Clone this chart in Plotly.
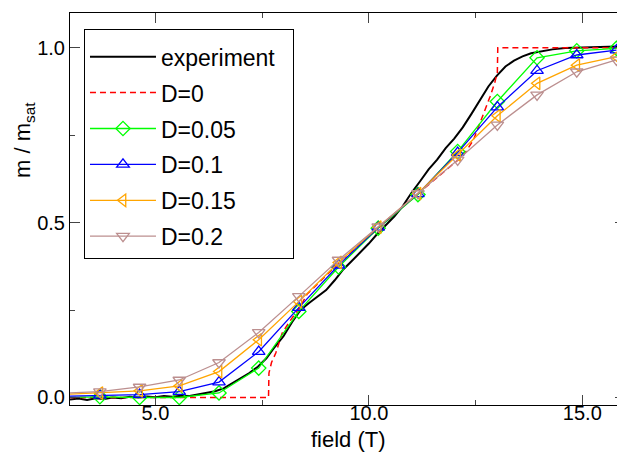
import plotly.graph_objects as go

# ---- data ----
field_exp = [3.0, 3.2, 3.4, 3.6, 3.8, 4.0, 4.2, 4.4, 4.6, 4.8, 5.0, 5.2, 5.4, 5.6, 5.8,
             6.0, 6.2, 6.4, 6.6, 6.8, 7.0, 7.2, 7.4, 7.6, 7.8, 8.0, 8.2, 8.4, 8.6, 8.8,
             9.0, 9.2, 9.4, 9.6, 9.8, 10.0, 10.2, 10.4, 10.6, 10.8, 11.0, 11.2, 11.4,
             11.6, 11.8, 12.0, 12.2, 12.4, 12.6, 12.8, 13.0, 13.2, 13.4, 13.6, 13.8,
             14.0, 14.3, 14.6, 15.0, 15.4, 15.8, 16.0]
m_exp = [-0.006, -0.003, -0.007, -0.002, -0.004, 0.0, -0.002, 0.002, 0.0, 0.003, 0.001,
         0.004, 0.002, 0.005, 0.004, 0.009, 0.012, 0.018, 0.026, 0.040, 0.056, 0.070,
         0.088, 0.112, 0.145, 0.175, 0.215, 0.250, 0.270, 0.288, 0.307, 0.335, 0.366,
         0.390, 0.414, 0.440, 0.468, 0.492, 0.518, 0.548, 0.585, 0.618, 0.652, 0.680,
         0.713, 0.740, 0.772, 0.810, 0.850, 0.889, 0.920, 0.946, 0.963, 0.975, 0.984,
         0.989, 0.995, 0.999, 1.000, 1.002, 1.004, 1.004]

field_d0 = [3.0, 7.65, 7.66, 7.72, 7.82, 7.97, 8.17, 8.4, 8.55, 9.3, 10.23, 11.17, 12.1,
            12.26, 12.45, 12.64, 12.84, 12.95, 13.01, 13.02, 16.0]
m_d0 = [0.0, 0.0, 0.07, 0.10, 0.127, 0.184, 0.222, 0.26, 0.295, 0.385, 0.485, 0.585,
        0.68, 0.70, 0.736, 0.794, 0.86, 0.90, 0.93, 1.0, 1.0]

field_sim = [2.77, 3.7, 4.63, 5.56, 6.49, 7.42, 8.36, 9.29, 10.22, 11.15, 12.08, 13.01,
             13.94, 14.87, 15.8]
m_d005 = [0.0, 0.002, 0.0, 0.0, 0.013, 0.084, 0.246, 0.373, 0.484, 0.580, 0.703, 0.846,
          0.971, 0.991, 0.998]
m_d01 = [0.003, 0.006, 0.008, 0.017, 0.044, 0.131, 0.257, 0.378, 0.486, 0.582, 0.700,
         0.830, 0.934, 0.979, 0.993]
m_d015 = [0.008, 0.0125, 0.019, 0.033, 0.074, 0.165, 0.274, 0.386, 0.487, 0.583, 0.693,
          0.805, 0.898, 0.950, 0.974]
m_d02 = [0.012, 0.017, 0.030, 0.050, 0.100, 0.186, 0.289, 0.393, 0.488, 0.583, 0.679,
         0.779, 0.865, 0.931, 0.965]

x_ticks = [5.0, 10.0, 15.0]
x_ticklabels = ["5.0", "10.0", "15.0"]
y_ticks = [0.0, 0.5, 1.0]
y_ticklabels = ["0.0", "0.5", "1.0"]

FONT = "Liberation Sans, Arial, Helvetica, sans-serif"

fig = go.Figure()
fig.add_trace(go.Scatter(x=field_exp, y=m_exp, mode="lines",
                         name="experiment\u00a0\u00a0",
                         line=dict(color="black", width=2), legendgroup="a"))
fig.add_trace(go.Scatter(x=field_d0, y=m_d0, mode="lines", name="D=0",
                         line=dict(color="#ff0000", width=1.5, dash="6px,4px"),
                         legendgroup="b"))
series = [
    ("D=0.05", m_d005, "#00ff00", "diamond-open"),
    ("D=0.1", m_d01, "#0000ff", "triangle-up-open"),
    ("D=0.15", m_d015, "#ffa500", "triangle-left-open"),
    ("D=0.2", m_d02, "#bc8f8f", "triangle-down-open"),
]
for i, (name, vals, col, sym) in enumerate(series):
    fig.add_trace(go.Scatter(x=field_sim, y=vals, mode="lines+markers", name=name,
                             line=dict(color=col, width=1.3),
                             marker=dict(symbol=sym, size=11, color=col,
                                         line=dict(color=col, width=1.3)),
                             legendgroup="g%d" % i))

axis_common = dict(showline=True, linecolor="black", linewidth=1, mirror="ticks",
                   ticks="inside", ticklen=10, tickwidth=1, tickcolor="#444",
                   showgrid=False, zeroline=False, automargin=False,
                   tickfont=dict(size=20, color="black", family=FONT))

fig.update_xaxes(range=[3.0, 16.0], tickvals=x_ticks, ticktext=x_ticklabels,
                 ticklabelstandoff=-10,
                 minor=dict(ticks="inside", ticklen=5, tickwidth=1, tickcolor="#444",
                            tickvals=[7.5, 12.5]),
                 **axis_common)
fig.update_yaxes(range=[-0.0215, 1.099], tickvals=y_ticks, ticktext=y_ticklabels,
                 minor=dict(ticks="inside", ticklen=5, tickwidth=1, tickcolor="#444",
                            tickvals=[0.25, 0.75]),
                 **axis_common)

fig.add_annotation(text="field (T)", xref="paper", yref="paper", x=0.501, y=-0.089,
                   xanchor="center", yanchor="middle", showarrow=False,
                   font=dict(size=22, color="black", family=FONT))
fig.add_annotation(text="m / m<sub>sat</sub>", xref="paper", yref="paper", x=-0.0829,
                   y=0.676, xanchor="center", yanchor="middle", textangle=-90,
                   showarrow=False, font=dict(size=22, color="black", family=FONT))

# figure is slightly wider than the 617px window; the page clips the right edge,
# as in the reference (right spine outside the picture)
fig.update_layout(
    width=625, height=452,
    margin=dict(l=70, r=0, t=13, b=47),
    paper_bgcolor="white", plot_bgcolor="white",
    font=dict(family=FONT, color="black"),
    legend=dict(x=0.0252, y=0.959, xanchor="left", yanchor="top",
                bgcolor="white", bordercolor="black", borderwidth=1,
                font=dict(size=23, color="black", family=FONT),
                title=dict(text=" ", font=dict(size=4)),
                tracegroupgap=3, itemwidth=66),
)

fig.write_html("out.html",
               config={"displayModeBar": False},
               post_script="document.body.style.margin='0';"
                           "document.body.style.overflow='hidden';")
